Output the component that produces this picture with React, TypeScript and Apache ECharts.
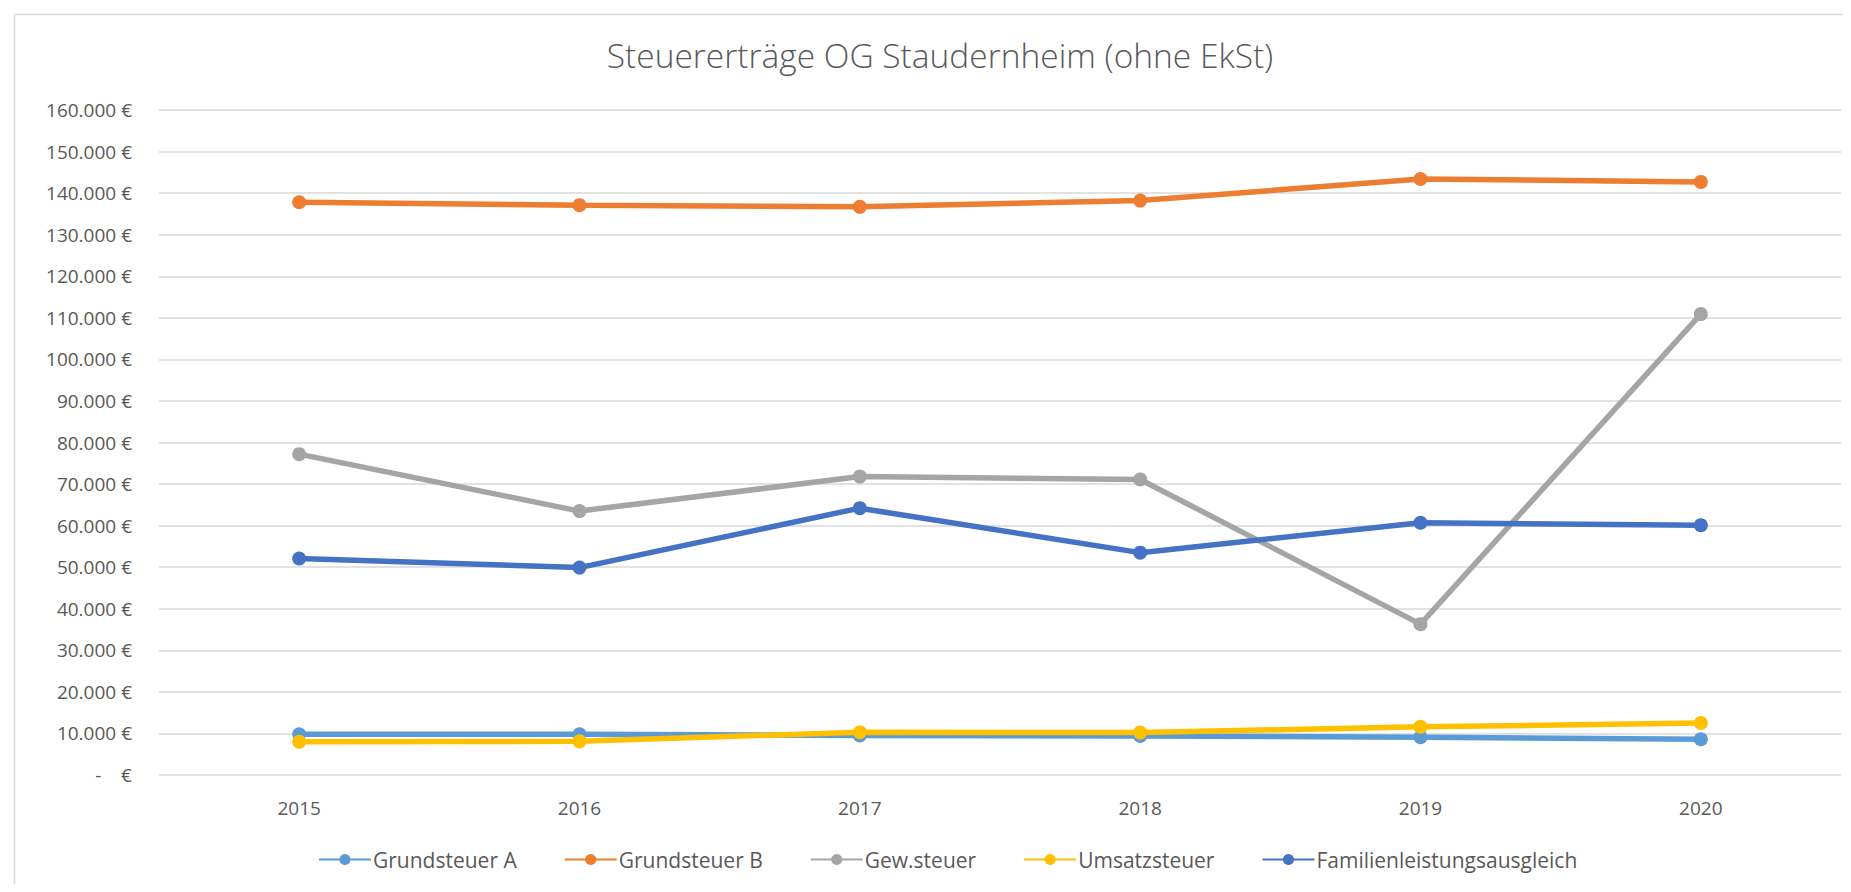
import React, { useEffect, useRef } from "react";
import * as echarts from "echarts";

const years = ["2015", "2016", "2017", "2018", "2019", "2020"];
const grundsteuerA = [9800, 9800, 9500, 9400, 9100, 8600];
const grundsteuerB = [137800, 137100, 136700, 138200, 143400, 142700];
const gewSteuer = [77200, 63500, 71800, 71100, 36300, 110900];
const umsatzsteuer = [8000, 8100, 10300, 10200, 11600, 12500];
const familienleistung = [52100, 49900, 64200, 53500, 60700, 60100];

const seriesNames = ["Grundsteuer A", "Grundsteuer B", "Gew.steuer", "Umsatzsteuer", "Familienleistungsausgleich"];
const seriesColors = ["#5B9BD5", "#ED7D31", "#A5A5A5", "#FFC000", "#4472C4"];
const seriesData = [grundsteuerA, grundsteuerB, gewSteuer, umsatzsteuer, familienleistung];

const titleText = "Steuererträge OG Staudernheim (ohne EkSt)";

const FONT = "'Open Sans', 'Noto Sans', sans-serif";
const TEXT = "#595959";

function fmtEuro(v: number): string {
  if (v === 0) return "-    €";
  return v.toLocaleString("de-DE").replace(/,/g, ".") + " €";
}

export default function App() {
  const ref = useRef<HTMLDivElement>(null);
  useEffect(() => {
    if (!ref.current) return;
    const chart = echarts.init(ref.current, undefined, { renderer: "svg" });
    chart.setOption({
      animation: false,
      backgroundColor: "#ffffff",
      graphic: [
        {
          type: "rect",
          left: 4,
          top: 4,
          shape: { width: 1900, height: 950 },
          style: { fill: "none", stroke: "#D9D9D9", lineWidth: 1.5 },
          silent: true,
        },
        {
          type: "text",
          x: 932,
          y: 47,
          style: {
            text: titleText,
            textAlign: "center",
            textVerticalAlign: "middle",
            fontFamily: FONT,
            fontSize: 33.5,
            fontWeight: 300,
            fill: TEXT,
          },
          silent: true,
        },
      ],
      legend: {
        top: 836,
        left: 305,
        itemWidth: 52,
        itemHeight: 14,
        itemGap: 47,
        textStyle: { fontFamily: FONT, fontSize: 21, color: TEXT, padding: [0, 0, 0, -3] },
        data: seriesNames,
      },
      grid: { left: 151, right: 2, top: 102, bottom: 109 },
      xAxis: {
        type: "category",
        data: years,
        boundaryGap: true,
        axisLine: { show: false },
        axisTick: { show: false },
        axisLabel: { fontFamily: FONT, fontSize: 19, color: TEXT, margin: 23 },
      },
      yAxis: {
        type: "value",
        min: 0,
        max: 160000,
        interval: 10000,
        axisLine: { show: false },
        axisTick: { show: false },
        splitLine: { lineStyle: { color: "#D9D9D9", width: 1.5 } },
        axisLabel: { fontFamily: FONT, fontSize: 19, color: TEXT, margin: 27, formatter: fmtEuro },
      },
      series: seriesData.map((d, i) => ({
        name: seriesNames[i],
        type: "line",
        data: d,
        symbol: "circle",
        symbolSize: 14,
        color: seriesColors[i],
        lineStyle: { width: 5.5, color: seriesColors[i] },
        itemStyle: { color: seriesColors[i] },
      })),
    });
    return () => chart.dispose();
  }, []);
  return <div ref={ref} style={{ width: 1835, height: 876 }} />;
}
